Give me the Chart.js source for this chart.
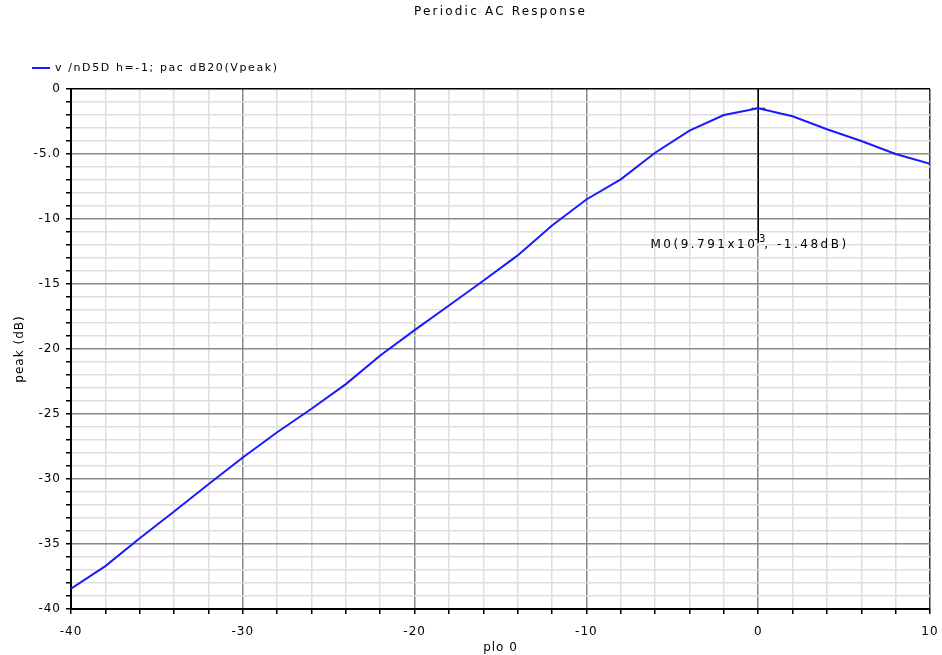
<!DOCTYPE html>
<html>
<head>
<meta charset="utf-8">
<script src="https://cdn.jsdelivr.net/npm/chart.js@4.4.1/dist/chart.umd.min.js"></script>
<style>
html,body{margin:0;padding:0;background:#fff;}
#wrap{width:942px;height:655px;position:relative;}
</style>
</head>
<body>
<div id="wrap"><canvas id="c" width="942" height="655"></canvas></div>
<script>
// ---- data ----
const freqOffset = [-40,-38,-36,-34,-32,-30,-28,-26,-24,-22,-20,-18,-16,-14,-12,-10,-8,-6,-4,-2,0,2,4,6,8,10];
const peakDb     = [-38.44,-36.7,-34.56,-32.5,-30.4,-28.35,-26.4,-24.6,-22.7,-20.5,-18.55,-16.65,-14.75,-12.8,-10.5,-8.5,-6.95,-4.9,-3.2,-2.0,-1.48,-2.1,-3.1,-4.0,-5.0,-5.75];
const xTickValues = [-40,-30,-20,-10,0,10];
const xTickLabels = ['-40','-30','-20','-10','0','10'];
const yTickValues = [0,-5,-10,-15,-20,-25,-30,-35,-40];
const yTickLabels = ['0','-5.0','-10','-15','-20','-25','-30','-35','-40'];
const markerX = 0.009791;
const markerY = -1.48;
const markerLineEndY = -11.8;
const markerLabelY = -12;
const markerHalfWidth = 0.4;
const seriesName = 'v /nD5D h=-1; pac dB20(Vpeak)';
const chartTitle = 'Periodic AC Response';
const xTitle = 'plo 0';
const yTitle = 'peak (dB)';

const FONT = "'DejaVu Sans', sans-serif";

const decor = {
  id: 'decor',
  beforeLayout(chart){ chart.ctx.letterSpacing = '1px'; },
  beforeDraw(chart){ chart.ctx.letterSpacing = '1px'; },
  afterDraw(chart){
    const ctx = chart.ctx;
    const xs = chart.scales.x, ys = chart.scales.y;
    const area = chart.chartArea;
    ctx.save();
    ctx.fillStyle = '#000';
    // title
    ctx.letterSpacing = '2.2px';
    ctx.font = "12px " + FONT;
    ctx.textAlign = 'center';
    ctx.textBaseline = 'middle';
    ctx.fillText(chartTitle, (area.left + area.right) / 2, 12);
    // legend
    ctx.strokeStyle = '#1a1aff';
    ctx.lineWidth = 2;
    ctx.beginPath(); ctx.moveTo(32, 68); ctx.lineTo(50, 68); ctx.stroke();
    ctx.letterSpacing = '1.6px';
    ctx.font = "11px " + FONT;
    ctx.textAlign = 'left';
    ctx.fillText(seriesName, 55, 68);
    // marker label
    const px = xs.getPixelForValue(markerX);
    const py = ys.getPixelForValue(markerLabelY);
    ctx.letterSpacing = '2.5px';
    ctx.font = "12px " + FONT;
    ctx.textAlign = 'right';
    ctx.fillText('M0(9.791x10', px - 1, py);
    ctx.letterSpacing = '1px';
    ctx.font = "10px " + FONT;
    ctx.textAlign = 'left';
    ctx.fillText('-3', px - 4, py - 6);
    ctx.letterSpacing = '2.5px';
    ctx.font = "12px " + FONT;
    ctx.fillText(', -1.48dB)', px + 6, py);
    ctx.restore();
  }
};

const majorX = v => Math.abs(v % 10) < 1e-9;
const majorY = v => Math.abs(v % 5) < 1e-9;

new Chart(document.getElementById('c'), {
  type: 'line',
  data: {
    datasets: [
      {
        label: seriesName,
        data: freqOffset.map((x, i) => ({x: x, y: peakDb[i]})),
        borderColor: '#1a1aff',
        borderWidth: 2,
        pointRadius: 0,
        tension: 0,
        fill: false
      },
      {
        label: 'marker',
        data: [{x: markerX, y: 0}, {x: markerX, y: markerLineEndY}],
        borderColor: '#000',
        borderWidth: 1,
        pointRadius: 0,
        fill: false
      },
      {
        label: 'markerbar',
        data: [{x: markerX - markerHalfWidth, y: markerY}, {x: markerX + markerHalfWidth, y: markerY}],
        borderColor: '#000',
        borderWidth: 1,
        pointRadius: 0,
        fill: false
      }
    ]
  },
  options: {
    responsive: false,
    animation: false,
    devicePixelRatio: 1,
    layout: { padding: { top: 89, right: 12, left: 0, bottom: 0 } },
    plugins: {
      legend: { display: false },
      title: { display: false },
      tooltip: { enabled: false }
    },
    scales: {
      x: {
        type: 'linear',
        min: -40, max: 10,
        afterFit(s){ s.height = 46; s.paddingLeft = 0; s.paddingRight = 0; },
        ticks: {
          stepSize: 2,
          autoSkip: false,
          maxRotation: 0,
          color: '#000',
          font: { family: FONT, size: 12 },
          padding: 11,
          callback(v){ const i = xTickValues.indexOf(v); return i >= 0 ? xTickLabels[i] : ''; }
        },
        grid: {
          color: c => (c.tick && c.tick.value === 10) ? '#333' : (c.tick && majorX(c.tick.value) ? '#8a8a8a' : '#dedede'),
          lineWidth: 1.5,
          tickColor: '#000',
          tickLength: 5
        },
        border: { color: '#000', width: 2 },
        title: { display: true, text: xTitle, color: '#000', font: { family: FONT, size: 12 }, padding: { top: 0, bottom: 0 } }
      },
      y: {
        type: 'linear',
        min: -40, max: 0,
        afterFit(s){ s.width = 71; s.paddingTop = 0; s.paddingBottom = 0; },
        ticks: {
          stepSize: 1,
          autoSkip: false,
          color: '#000',
          font: { family: FONT, size: 12 },
          padding: 5,
          callback(v){ const i = yTickValues.indexOf(v); return i >= 0 ? yTickLabels[i] : ''; }
        },
        grid: {
          color: c => (c.tick && c.tick.value === 0) ? '#000' : (c.tick && majorY(c.tick.value) ? '#8a8a8a' : '#dedede'),
          lineWidth: 1.5,
          tickColor: '#000',
          tickLength: 5
        },
        border: { color: '#000', width: 2 },
        title: { display: true, text: yTitle, color: '#000', font: { family: FONT, size: 12 }, padding: { top: 13, bottom: 8 } }
      }
    }
  },
  plugins: [decor]
});
</script>
</body>
</html>
